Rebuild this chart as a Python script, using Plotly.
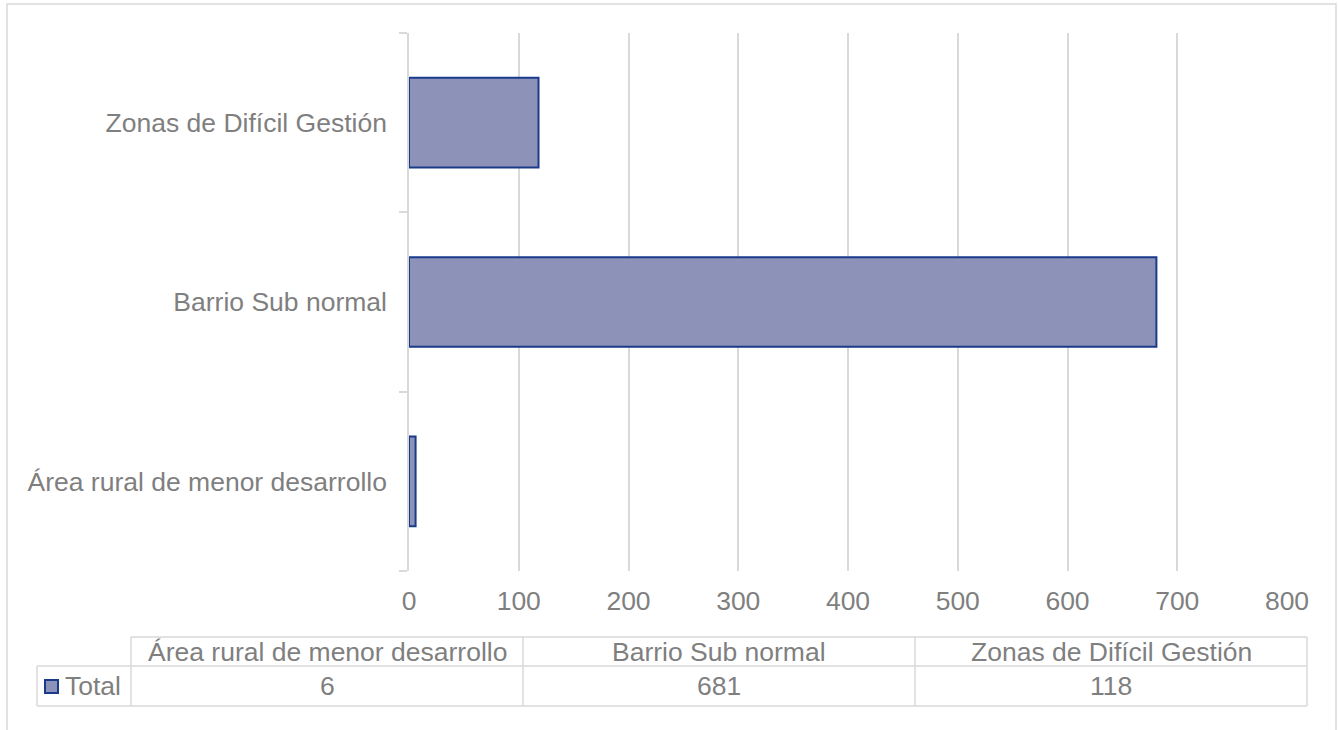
import plotly.graph_objects as go

categories = ["Área rural de menor desarrollo", "Barrio Sub normal", "Zonas de Difícil Gestión"]
values = [6, 681, 118]
series_name = "Total"
x_ticks = [0, 100, 200, 300, 400, 500, 600, 700, 800]

W, H = 1338, 730
L, R, T, B = 409, 1287, 33, 571
TXT = "#7f7f7f"
GRID = "#d9d9d9"
FILL = "#8d92b9"
EDGE = "#1a3a8a"
FONT = "Liberation Sans, Arial, sans-serif"
FS = 26.5


def px(x):
    return (x - L) / (R - L)


def py(y):
    return (B - y) / (B - T)


fig = go.Figure()
fig.add_trace(go.Bar(
    y=categories, x=values, orientation="h", name=series_name,
    marker=dict(color=FILL, line=dict(color=EDGE, width=2)),
    showlegend=False,
))

shapes = []
annotations = []

# outer chart border
shapes.append(dict(type="rect", xref="paper", yref="paper",
                   x0=px(7), x1=px(1336), y0=py(745), y1=py(4),
                   line=dict(color=GRID, width=1.5), layer="below"))

# data table
col_edges = [131, 523, 915, 1307]
row_top, row_mid, row_bot = 637, 666, 706
leg_left = 37
lw = dict(color=GRID, width=1.5)
shapes.append(dict(type="line", xref="paper", yref="paper", x0=px(col_edges[0]), x1=px(col_edges[-1]),
                   y0=py(row_top), y1=py(row_top), line=lw))
shapes.append(dict(type="line", xref="paper", yref="paper", x0=px(leg_left), x1=px(col_edges[-1]),
                   y0=py(row_mid), y1=py(row_mid), line=lw))
shapes.append(dict(type="line", xref="paper", yref="paper", x0=px(leg_left), x1=px(col_edges[-1]),
                   y0=py(row_bot), y1=py(row_bot), line=lw))
shapes.append(dict(type="line", xref="paper", yref="paper", x0=px(leg_left), x1=px(leg_left),
                   y0=py(row_mid), y1=py(row_bot), line=lw))
for ce in col_edges:
    shapes.append(dict(type="line", xref="paper", yref="paper", x0=px(ce), x1=px(ce),
                       y0=py(row_top), y1=py(row_bot), line=lw))

for i, (cat, val) in enumerate(zip(categories, values)):
    cx = (col_edges[i] + col_edges[i + 1]) / 2
    annotations.append(dict(xref="paper", yref="paper", x=px(cx), y=py((row_top + row_mid) / 2),
                            text=cat, showarrow=False, xanchor="center", yanchor="middle",
                            font=dict(family=FONT, size=FS, color=TXT)))
    annotations.append(dict(xref="paper", yref="paper", x=px(cx), y=py((row_mid + row_bot) / 2),
                            text=str(val), showarrow=False, xanchor="center", yanchor="middle",
                            font=dict(family=FONT, size=FS, color=TXT)))

# legend key
shapes.append(dict(type="rect", xref="paper", yref="paper", x0=px(45), x1=px(58),
                   y0=py(693), y1=py(680), fillcolor=FILL, line=dict(color=EDGE, width=2)))
annotations.append(dict(xref="paper", yref="paper", x=px(63), y=py(686), text=series_name,
                        showarrow=False, xanchor="left", yanchor="middle",
                        font=dict(family=FONT, size=FS, color=TXT)))

fig.update_layout(
    width=W, height=H,
    margin=dict(l=L, r=W - R, t=T, b=H - B),
    paper_bgcolor="white", plot_bgcolor="white",
    bargap=0.5,
    font=dict(family=FONT, size=FS, color=TXT),
    xaxis=dict(range=[0, 800], tickvals=x_ticks, showgrid=True, gridcolor=GRID, gridwidth=1.5,
               zeroline=False, showline=False, ticks="", ticklabelstandoff=11,
               tickfont=dict(family=FONT, size=FS, color=TXT)),
    yaxis=dict(categoryorder="array", categoryarray=categories, showline=True, linecolor=GRID,
               linewidth=1.5, ticks="outside", tickson="boundaries", ticklen=8, tickcolor=GRID,
               tickwidth=1.5, showgrid=False, ticklabelstandoff=15,
               tickfont=dict(family=FONT, size=FS, color=TXT)),
    shapes=shapes, annotations=annotations,
)

fig.write_html("out.html", config={"displayModeBar": False},
               post_script="document.body.style.margin='0';")
